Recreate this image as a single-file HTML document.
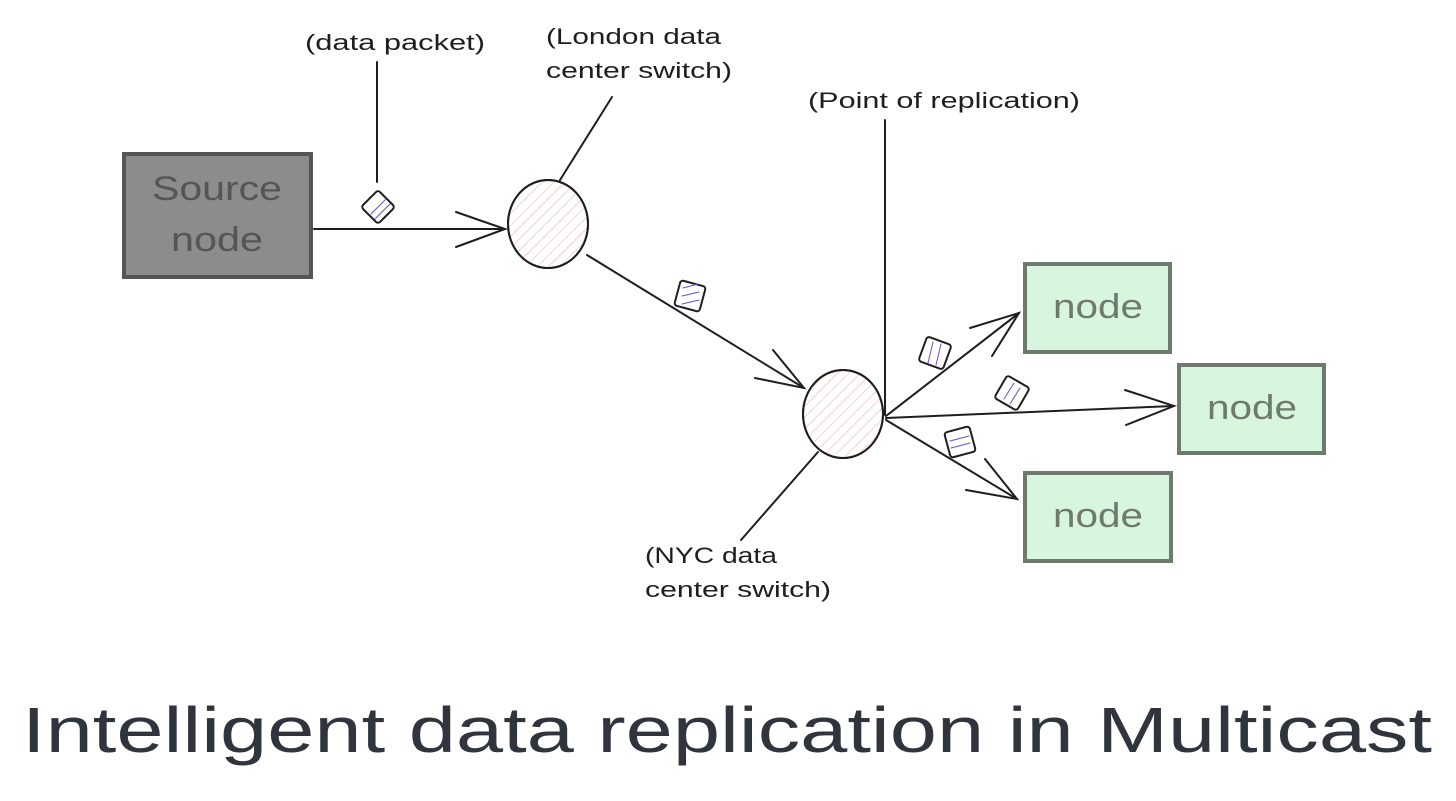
<!DOCTYPE html>
<html><head><meta charset="utf-8"><style>
html,body{margin:0;padding:0;background:#fff;}
svg{display:block;}
text{font-family:"Liberation Sans",sans-serif;}
</style></head><body>
<svg width="1456" height="801" viewBox="0 0 1456 801" xmlns="http://www.w3.org/2000/svg">
<defs>
<pattern id="hp" width="8" height="8" patternUnits="userSpaceOnUse" patternTransform="rotate(45)">
<line x1="0" y1="0" x2="0" y2="8" stroke="#f2a6a6" stroke-width="1"/>
</pattern>
</defs>
<g fill="none" stroke="#1e1e1e" stroke-width="2" stroke-linecap="round">
<rect x="124" y="154" width="187" height="123" fill="#8c8c8c" stroke="#555" stroke-width="4"/>
<line x1="314" y1="229" x2="505" y2="229"/>
<polyline points="456,212 505,229 456,247"/>
<line x1="377" y1="62" x2="377" y2="182"/>
<ellipse cx="548" cy="224" rx="40" ry="44" fill="#fff"/>
<ellipse cx="548" cy="224" rx="40" ry="44" fill="url(#hp)"/>
<line x1="560" y1="180" x2="612" y2="97"/>
<line x1="587" y1="255" x2="804" y2="388"/>
<polyline points="755,378 804,388 773,350"/>
<ellipse cx="843" cy="414" rx="40" ry="44" fill="#fff"/>
<ellipse cx="843" cy="414" rx="40" ry="44" fill="url(#hp)"/>
<line x1="818" y1="452" x2="741" y2="540"/>
<line x1="885" y1="120" x2="885" y2="415"/>
<line x1="886" y1="416" x2="1019" y2="313"/>
<polyline points="970,328 1019,313 992,356"/>
<line x1="886" y1="418" x2="1174" y2="406"/>
<polyline points="1125,390 1174,406 1126,425"/>
<line x1="886" y1="420" x2="1017" y2="499"/>
<polyline points="966,490 1017,499 985,459"/>
<g stroke-width="2" fill="#fff">
<rect x="-12" y="-12" width="24" height="24" rx="3" transform="translate(378,207) rotate(45)"/>
<rect x="-13" y="-13" width="26" height="26" rx="3" transform="translate(690,296) rotate(15)"/>
<rect x="-13" y="-13" width="26" height="26" rx="3" transform="translate(935,353) rotate(20)"/>
<rect x="-13" y="-13" width="26" height="26" rx="3" transform="translate(1012,393) rotate(30)"/>
<rect x="-13" y="-13" width="26" height="26" rx="3" transform="translate(960,442) rotate(-15)"/>
</g>
<g stroke="#6a4fd0" stroke-width="1">
<line x1="371" y1="214" x2="386" y2="199"/><line x1="375" y1="219" x2="390" y2="204"/>
<line x1="683" y1="288" x2="698" y2="284"/><line x1="682" y1="296" x2="699" y2="292"/><line x1="682" y1="304" x2="699" y2="300"/>
<line x1="928" y1="363" x2="933" y2="342"/><line x1="936" y1="365" x2="941" y2="344"/>
<line x1="1004" y1="399" x2="1014" y2="383"/><line x1="1010" y1="404" x2="1020" y2="388"/>
<line x1="950" y1="441" x2="969" y2="436"/><line x1="951" y1="448" x2="970" y2="443"/>
</g>
<g fill="#d8f5dd" stroke="#6e7a6e" stroke-width="4">
<rect x="1025" y="264" width="145" height="88"/>
<rect x="1179" y="365" width="145" height="88"/>
<rect x="1025" y="473" width="146" height="88"/>
</g>
</g>
<g fill="#555" font-size="34">
<text x="217" y="200" text-anchor="middle" textLength="130" lengthAdjust="spacingAndGlyphs">Source</text>
<text x="217" y="251" text-anchor="middle" textLength="92" lengthAdjust="spacingAndGlyphs">node</text>
</g>
<g fill="#6e7a6e" font-size="34">
<text x="1098" y="318" text-anchor="middle" textLength="90" lengthAdjust="spacingAndGlyphs">node</text>
<text x="1252" y="419" text-anchor="middle" textLength="90" lengthAdjust="spacingAndGlyphs">node</text>
<text x="1098" y="527" text-anchor="middle" textLength="90" lengthAdjust="spacingAndGlyphs">node</text>
</g>
<g fill="#1e1e1e" font-size="22">
<text x="305" y="50" textLength="180" lengthAdjust="spacingAndGlyphs">(data packet)</text>
<text x="546" y="44" textLength="175" lengthAdjust="spacingAndGlyphs">(London data</text>
<text x="546" y="78" textLength="186" lengthAdjust="spacingAndGlyphs">center switch)</text>
<text x="808" y="108" textLength="272" lengthAdjust="spacingAndGlyphs">(Point of replication)</text>
<text x="645" y="563" textLength="132" lengthAdjust="spacingAndGlyphs">(NYC data</text>
<text x="645" y="597" textLength="186" lengthAdjust="spacingAndGlyphs">center switch)</text>
</g>
<text x="22" y="752" fill="#2f343d" font-size="64" textLength="1410" lengthAdjust="spacingAndGlyphs">Intelligent data replication in Multicast</text>
</svg>
</body></html>
